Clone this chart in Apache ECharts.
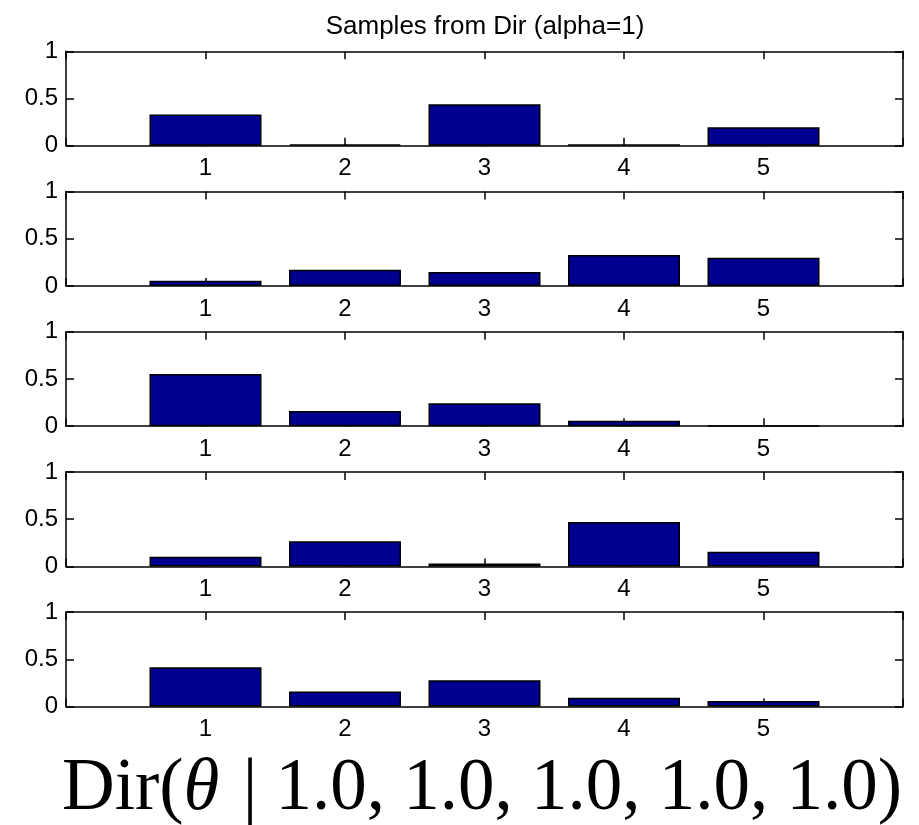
<!DOCTYPE html>
<html>
<head>
<meta charset="utf-8">
<script src="https://cdn.jsdelivr.net/npm/echarts@6/dist/echarts.min.js"></script>
<style>
  html, body { margin: 0; padding: 0; background: #fff; }
  #main { width: 919px; height: 825px; }
</style>
</head>
<body>
<div id="main"></div>
<script>
// 五组 Dir(alpha=1) 采样
var categories = [1, 2, 3, 4, 5];
var sample1 = [0.332, 0.015, 0.44, 0.016, 0.197];
var sample2 = [0.055, 0.172, 0.147, 0.328, 0.298];
var sample3 = [0.553, 0.162, 0.244, 0.058, 0.002];
var sample4 = [0.103, 0.265, 0.032, 0.47, 0.156];
var sample5 = [0.416, 0.16, 0.28, 0.093, 0.06];
var yTicks = [0, 0.5, 1];
var samples = [sample1, sample2, sample3, sample4, sample5];

var titleText = 'Samples from Dir (alpha=1)';
var formulaHead = 'Dir(';
var formulaVar = 'θ';
var formulaTail = ' | 1.0, 1.0, 1.0, 1.0, 1.0)';

var font = 'Liberation Sans';
var lineW = 1.5;

var grids = [], xAxes = [], yAxes = [], series = [];
samples.forEach(function(vals, i) {
  grids.push({
    left: 66, right: 16, top: 51.3 + 140.2 * i, height: 94.5,
    containLabel: false
  });
  var xBase = {
    gridIndex: i, type: 'value', min: 0, max: 6, interval: 1,
    axisLine: { show: true, onZero: false, lineStyle: { color: '#000', width: lineW } },
    axisTick: { show: true, inside: true, length: 8, lineStyle: { color: '#000', width: lineW } },
    splitLine: { show: false }
  };
  xAxes.push(Object.assign({}, xBase, {
    position: 'bottom',
    axisLabel: {
      show: true, color: '#000', fontFamily: font, fontSize: 24, margin: 11,
      formatter: function(v) { return categories.indexOf(v) >= 0 ? String(v) : ''; }
    }
  }));
  xAxes.push(Object.assign({}, xBase, { position: 'top', axisLabel: { show: false } }));
  var yBase = {
    gridIndex: i, type: 'value', min: yTicks[0], max: yTicks[yTicks.length - 1], interval: 0.5,
    axisLine: { show: true, onZero: false, lineStyle: { color: '#000', width: lineW } },
    axisTick: { show: true, inside: true, length: 8, lineStyle: { color: '#000', width: lineW } },
    splitLine: { show: false }
  };
  yAxes.push(Object.assign({}, yBase, {
    position: 'left',
    axisLabel: { show: true, color: '#000', fontFamily: font, fontSize: 24, margin: 8 }
  }));
  yAxes.push(Object.assign({}, yBase, { position: 'right', axisLabel: { show: false } }));
  series.push({
    type: 'bar',
    xAxisIndex: i * 2,
    yAxisIndex: i * 2,
    barWidth: 112,
    data: categories.map(function(c, k) { return [c, vals[k]]; }),
    itemStyle: { color: '#00008F', borderColor: '#000', borderWidth: lineW },
    silent: true
  });
});

var myChart = echarts.init(document.getElementById('main'));
myChart.setOption({
  animation: false,
  title: {
    text: titleText, left: 480, top: 9, textAlign: 'center',
    textStyle: { fontFamily: font, fontSize: 26, fontWeight: 'normal', color: '#000' }
  },
  grid: grids,
  xAxis: xAxes,
  yAxis: yAxes,
  series: series,
  graphic: [{
    type: 'text',
    x: 482,
    y: 753,
    style: {
      text: '{a|' + formulaHead + '}{t|' + formulaVar + '}{a|' + formulaTail + '}',
      align: 'center',
      verticalAlign: 'top',
      rich: {
        a: { fontFamily: 'Liberation Serif', fontSize: 73, fill: '#000' },
        t: { fontFamily: 'Liberation Serif', fontSize: 73, fontStyle: 'italic', fill: '#000', padding: [0, 5, 0, 0] }
      }
    }
  }]
});
</script>
</body>
</html>
